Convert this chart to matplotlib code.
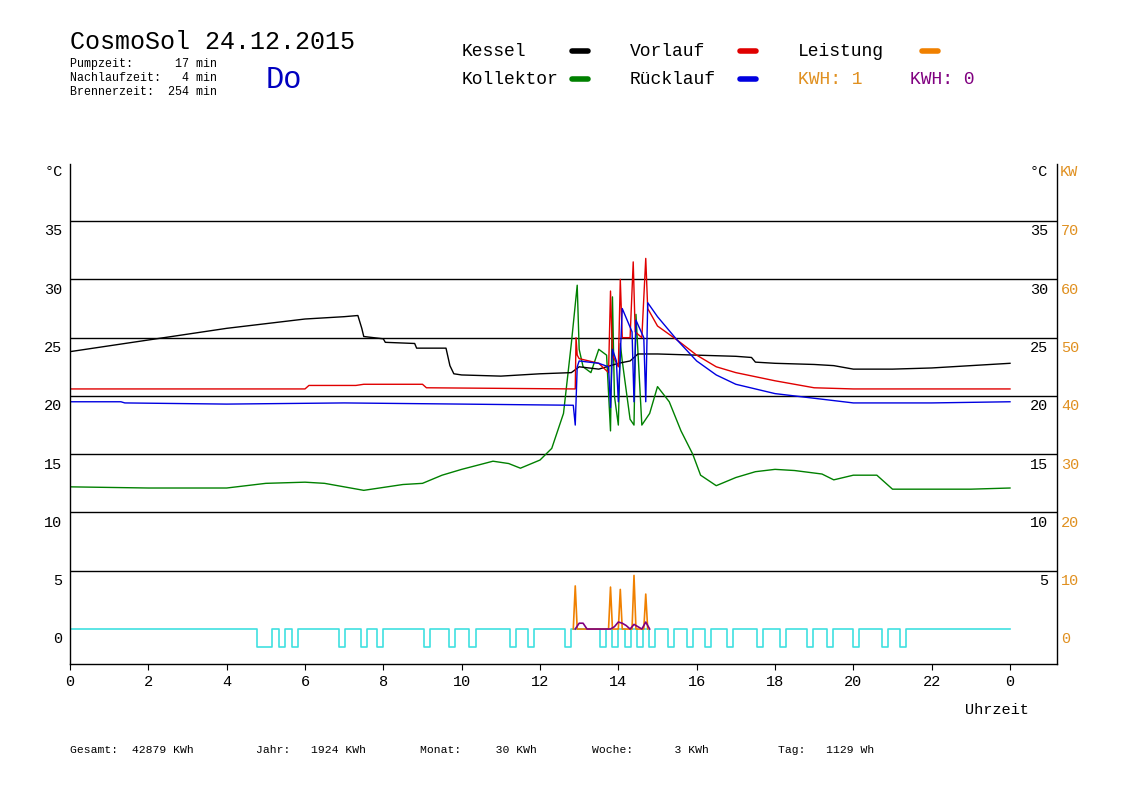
import matplotlib
matplotlib.use("Agg")
import matplotlib.pyplot as plt
import numpy as np

plt.rcParams['font.family'] = ['Liberation Mono', 'DejaVu Sans Mono']

kessel_t = [0, 1, 2, 3, 4, 5, 6, 7, 7.35, 7.45, 7.5, 8, 8.05, 8.8, 8.85, 9.6, 9.7, 9.8, 10, 11, 12, 12.8, 13, 13.5, 14, 14.3, 14.5, 15, 16, 17, 17.4, 17.5, 18, 19, 19.5, 20, 21, 22, 23, 24]
kessel_v = [23.8, 24.3, 24.8, 25.3, 25.8, 26.2, 26.6, 26.8, 26.9, 25.8, 25.1, 24.9, 24.6, 24.5, 24.1, 24.1, 22.6, 21.9, 21.8, 21.7, 21.9, 22.0, 22.5, 22.3, 22.8, 23.0, 23.6, 23.6, 23.5, 23.4, 23.3, 22.9, 22.8, 22.7, 22.6, 22.3, 22.3, 22.4, 22.6, 22.8]

vorlauf_t = [0, 3, 6, 6.1, 7.3, 7.5, 9, 9.1, 12.9, 12.92, 12.95, 13.0, 13.5, 13.75, 13.8, 13.85, 14.0, 14.05, 14.1, 14.3, 14.38, 14.43, 14.6, 14.7, 14.75, 15, 15.5, 16, 16.5, 17, 18, 19, 20, 24]
vorlauf_v = [20.6, 20.6, 20.6, 20.9, 20.9, 21.0, 21.0, 20.7, 20.6, 25.0, 23.5, 23.2, 22.8, 22.0, 29.0, 23.5, 22.5, 30.0, 25.0, 25.0, 31.5, 25.5, 25.0, 31.8, 27.5, 26.0, 24.8, 23.5, 22.5, 22.0, 21.3, 20.7, 20.6, 20.6]

ruecklauf_t = [0, 1.3, 1.4, 4, 7, 10, 12.85, 12.9, 12.95, 13.0, 13.5, 13.75, 13.8, 13.85, 13.95, 14.0, 14.1, 14.35, 14.4, 14.45, 14.65, 14.7, 14.75, 15, 15.5, 16, 16.5, 17, 18, 19, 20, 22, 24]
ruecklauf_v = [19.5, 19.5, 19.4, 19.3, 19.4, 19.3, 19.2, 17.5, 22.5, 23.0, 22.8, 22.5, 19.0, 24.0, 23.0, 19.5, 27.5, 25.5, 19.5, 26.5, 25.0, 19.5, 28.0, 26.8, 24.8, 23.0, 21.8, 21.0, 20.2, 19.8, 19.4, 19.4, 19.5]

kollektor_t = [0, 2, 4, 5, 6, 6.5, 7.5, 8.5, 9, 9.5, 10, 10.8, 11.2, 11.5, 12, 12.3, 12.6, 12.8, 12.95, 13.0, 13.1, 13.3, 13.5, 13.7, 13.8, 13.85, 13.9, 14.0, 14.05, 14.1, 14.3, 14.4, 14.45, 14.6, 14.8, 15.0, 15.3, 15.6, 15.9, 16.1, 16.5, 17, 17.5, 18, 18.5, 19.2, 19.5, 20, 20.6, 21, 22, 23, 24]
kollektor_v = [12.2, 12.1, 12.1, 12.5, 12.6, 12.5, 11.9, 12.4, 12.5, 13.2, 13.7, 14.4, 14.2, 13.8, 14.5, 15.5, 18.5, 24.5, 29.5, 24.0, 22.5, 22.0, 24.0, 23.5, 17.0, 28.5, 20.0, 17.5, 24.5, 23.0, 18.0, 17.5, 27.0, 17.5, 18.5, 20.8, 19.5, 17.0, 15.0, 13.2, 12.3, 13.0, 13.5, 13.7, 13.6, 13.3, 12.8, 13.2, 13.2, 12.0, 12.0, 12.0, 12.1]

leistung_t = [12.85, 12.9, 12.95, 13.75, 13.8, 13.85, 14.0, 14.05, 14.1, 14.35, 14.4, 14.45, 14.65, 14.7, 14.75]
leistung_kw = [0, 7.4, 0, 0, 7.2, 0, 0, 6.8, 0, 0, 9.2, 0, 0, 6.0, 0]
kwh_t = [12.9, 13.0, 13.1, 13.2, 13.8, 13.9, 14.0, 14.1, 14.2, 14.3, 14.4, 14.5, 14.6, 14.7, 14.8]
kwh_kw = [0, 1.0, 1.0, 0, 0, 0.4, 1.2, 1.0, 0.6, 0, 0.8, 0.4, 0, 1.2, 0]

pump_start = [4.78, 5.33, 5.66, 6.86, 7.42, 7.83, 9.03, 9.67, 10.2, 11.23, 11.69, 12.63, 13.53, 13.83, 14.16, 14.47, 14.78, 15.26, 15.75, 16.21, 16.77, 17.54, 18.13, 18.82, 19.33, 19.99, 20.73, 21.19]
pump_width = [0.37] + [0.16] * 27
pump_depth = -1.5

hour_ticks = list(range(0, 25, 2))
hour_labels = [str(h % 24) for h in hour_ticks]
deg_ticks = [0, 5, 10, 15, 20, 25, 30, 35]

W, H = 1148, 812
fig = plt.figure(figsize=(W/100, H/100), dpi=100)
ax = fig.add_axes([70/W, (H-665)/H, (1057-70)/W, (665-165)/H])
ax.set_xlim(0, 25.2)
ax.set_ylim(-3.0, 39.9)
ax.spines['top'].set_visible(False)
for s in ['left', 'bottom', 'right']:
    ax.spines[s].set_linewidth(1.0)
for d in deg_ticks[1:]:
    ax.axhline(d, color='black', lw=1.0)

px, py = [0], [0]
for s, w in zip(pump_start, pump_width):
    px += [s, s, s + w, s + w]
    py += [0, pump_depth, pump_depth, 0]
px.append(24); py.append(0)
ax.plot(px, py, color='#40e0e0', lw=1.2)

ax.plot(kollektor_t, kollektor_v, color='#008000', lw=1)
ax.plot(kessel_t, kessel_v, color='black', lw=1)
ax.plot(vorlauf_t, vorlauf_v, color='#e00000', lw=1)
ax.plot(ruecklauf_t, ruecklauf_v, color='#0000e0', lw=1)
ax.plot(leistung_t, np.array(leistung_kw) / 2, color='#f08000', lw=1.2)
ax.plot(kwh_t, np.array(kwh_kw) / 2, color='#800080', lw=1.2)

ax.set_xticks(hour_ticks)
ax.set_xticklabels(hour_labels, fontsize=11)
ax.tick_params(axis='x', length=4, pad=3)
ax.set_yticks([])
for d in deg_ticks:
    ax.text(-0.2, d - 0.8, str(d), ha='right', va='center', fontsize=11)
    if d:
        ax.text(24.97, d - 0.8, str(d), ha='right', va='center', fontsize=11)
    ax.text(25.3, d - 0.8, str(2 * d), ha='left', va='center', fontsize=11, color='#e09020')
fig.text(45/W, 1 - 172/H, '°C', fontsize=11, va='center')
fig.text(1030/W, 1 - 172/H, '°C', fontsize=11, va='center')
fig.text(1060/W, 1 - 172/H, 'KW', fontsize=11, va='center', color='#e09020')
fig.text(965/W, 1 - 710/H, 'Uhrzeit', fontsize=11, va='center')

fig.text(70/W, 1 - 42/H, 'CosmoSol 24.12.2015', fontsize=18, va='center')
fig.text(70/W, 1 - 58/H, 'Pumpzeit:      17 min\nNachlaufzeit:   4 min\nBrennerzeit:  254 min',
         fontsize=8.4, va='top', linespacing=1.2)
fig.text(266/W, 1 - 80/H, 'Do', fontsize=22, va='center', color='#0000c0')

legend = [('Kessel', 462, 52, 572, 'black'), ('Vorlauf', 630, 52, 740, '#e00000'),
          ('Leistung', 798, 52, 922, '#f08000'),
          ('Kollektor', 462, 80, 572, '#008000'), ('Rücklauf', 630, 80, 740, '#0000e0')]
for txt, x, y, lx, lc in legend:
    fig.text(x/W, 1 - y/H, txt, fontsize=13, va='center')
    fig.lines.append(plt.Line2D([lx/W, (lx + 16)/W], [1 - y/H, 1 - y/H], transform=fig.transFigure,
                                color=lc, lw=4, solid_capstyle='round'))
fig.text(798/W, 1 - 80/H, 'KWH: 1', fontsize=13, va='center', color='#e09020')
fig.text(910/W, 1 - 80/H, 'KWH: 0', fontsize=13, va='center', color='#800080')

footer = [('Gesamt:  42879 KWh', 70), ('Jahr:   1924 KWh', 256), ('Monat:     30 KWh', 420),
          ('Woche:      3 KWh', 592), ('Tag:   1129 Wh', 778)]
for txt, x in footer:
    fig.text(x/W, 1 - 750/H, txt, fontsize=8.2, va='center')

fig.savefig('out.png', dpi=100)
